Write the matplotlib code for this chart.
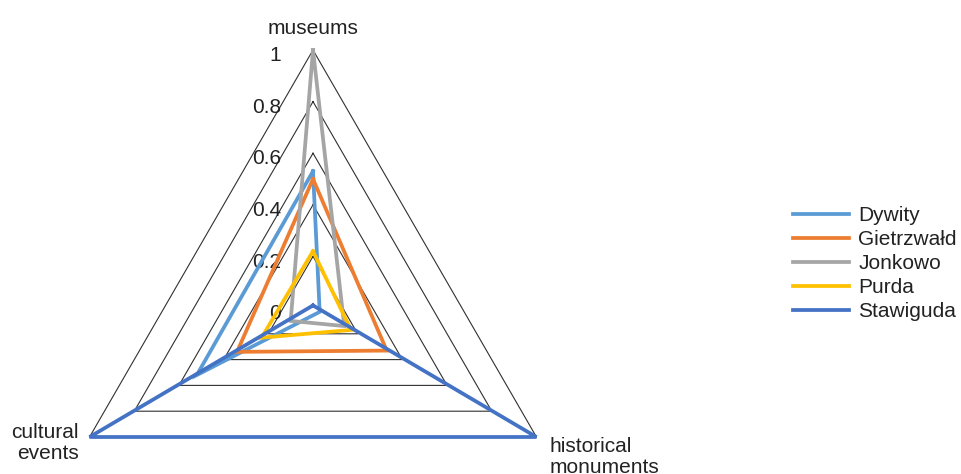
import numpy as np
import matplotlib
matplotlib.use("Agg")
import matplotlib.pyplot as plt

plt.rcParams['font.family'] = ['Liberation Sans', 'DejaVu Sans']

categories = ["museums", "historical\nmonuments", "cultural\nevents"]
series_names = ["Dywity", "Gietrzwałd", "Jonkowo", "Purda", "Stawiguda"]
dywity = [0.53, 0.03, 0.52]
gietrzwald = [0.50, 0.33, 0.34]
jonkowo = [1.00, 0.14, 0.10]
purda = [0.22, 0.17, 0.23]
stawiguda = [0.01, 1.00, 1.00]
series_values = [dywity, gietrzwald, jonkowo, purda, stawiguda]
colors = ["#5B9BD5", "#ED7D31", "#A5A5A5", "#FFC000", "#4472C4"]
tick_values = [0, 0.2, 0.4, 0.6, 0.8, 1.0]
tick_labels = ["0", "0.2", "0.4", "0.6", "0.8", "1"]

W, H = 961, 474
FS = 15
TXT = "#222222"
fig = plt.figure(figsize=(W / 100, H / 100), dpi=100)
cx, cy, R = 313, 308, 258
ax = fig.add_axes([(cx - R) / W, (H - cy - R) / H, 2 * R / W, 2 * R / H],
                  projection='polar')
ax.set_theta_zero_location('N')
ax.set_theta_direction(-1)
ax.set_ylim(0, 1)
ax.grid(False)
ax.spines['polar'].set_visible(False)
ax.patch.set_visible(False)
ax.set_xticks([])
ax.set_yticks([])

n = len(categories)
angles = np.linspace(0, 2 * np.pi, n, endpoint=False)
closed = np.concatenate([angles, angles[:1]])

# triangular gridlines
for tv in tick_values[1:]:
    ax.plot(closed, [tv] * (n + 1), color="#303030", lw=0.8, clip_on=False, zorder=1)

# data
for name, vals, col in zip(series_names, series_values, colors):
    v = list(vals) + [vals[0]]
    ax.plot(closed, v, color=col, lw=2.7, label=name, clip_on=False,
            solid_joinstyle='miter', zorder=3)

# radial tick labels
for tv, tl in zip(tick_values, tick_labels):
    ax.annotate(tl, xy=(0, tv), xytext=(-23, -8), textcoords='offset points',
                ha='right', va='baseline', fontsize=FS, color=TXT,
                annotation_clip=False, zorder=2)

def put_label(idx, dx, dy0, dy_step, ha):
    for k, line in enumerate(categories[idx].split("\n")):
        ax.annotate(line, xy=(angles[idx], 1), xytext=(dx, dy0 - k * dy_step),
                    textcoords='offset points', ha=ha, va='baseline',
                    fontsize=FS, color=TXT, annotation_clip=False)

put_label(0, 0, 11.5, 15.5, 'center')
put_label(1, 9.4, -11.0, 14.6, 'left')
put_label(2, -7.9, -0.7, 15.3, 'right')

leg = fig.legend(loc='center left', bbox_to_anchor=(793 / W, 1 - 263.5 / H),
                 frameon=False, fontsize=FS, handlelength=2.7,
                 handletextpad=0.43, labelspacing=0.24, borderaxespad=0,
                 borderpad=0)
for t in leg.get_texts():
    t.set_color(TXT)

fig.savefig("out.png", dpi=100)
